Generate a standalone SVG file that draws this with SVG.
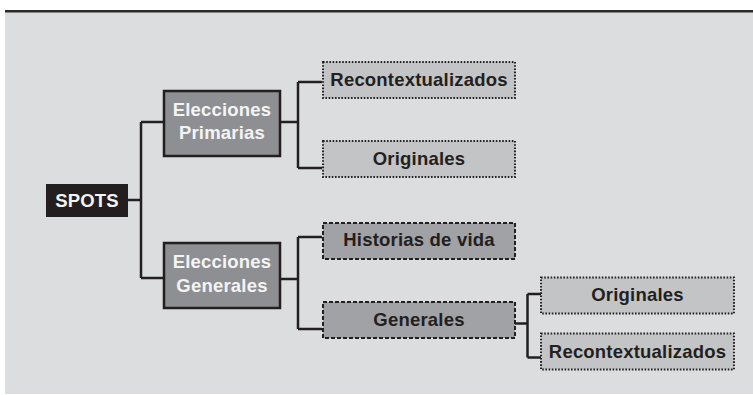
<svg xmlns="http://www.w3.org/2000/svg" width="753" height="395" viewBox="0 0 753 395">
<style>
.bg{fill:#dcdddf}
.root{fill:#231f20}
.main{fill:#8e8f93;stroke:#231f20;stroke-width:2.5}
.dot{fill:#c3c4c6;stroke:#231f20;stroke-width:2;stroke-dasharray:1.6 1.6}
.dash{fill:#a1a2a5;stroke:#231f20;stroke-width:2;stroke-dasharray:4 2}
.c{fill:none;stroke:#231f20;stroke-width:2.5}
text{font-family:"Liberation Sans",Arial,sans-serif;font-weight:bold;font-size:18.5px;text-anchor:middle;letter-spacing:0.2px}
.w{fill:#f4f4f4}
.k{fill:#231f20}
</style>
<rect x="0" y="0" width="753" height="395" fill="#ffffff"/>
<rect class="bg" x="5" y="12" width="748" height="382"/>
<rect x="5" y="10" width="748" height="2.5" fill="#2b2b2b"/>
<g id="connectors">
<path class="c" d="M128 200 H141 M141 122 V278 M141 122 H163 M141 278 H163"/>
<path class="c" d="M280 122 H298 M298 82 V168 M298 82 H322 M298 168 H322"/>
<path class="c" d="M280 279 H298 M298 237 V329 M298 237 H322 M298 329 H322"/>
<path class="c" d="M515 323.5 H527.5 M527.5 294 V357.5 M527.5 294 H541 M527.5 357.5 H541"/>
</g>
<g id="spots">
<rect class="root" x="46" y="184" width="82" height="33"/>
<text class="w" x="87" y="207">SPOTS</text>
</g>
<g id="primarias">
<rect class="main" x="164" y="91" width="116" height="65"/>
<text class="w" x="222" y="116">Elecciones</text>
<text class="w" x="222" y="139">Primarias</text>
</g>
<g id="generales-elecciones">
<rect class="main" x="164" y="243" width="116" height="65"/>
<text class="w" x="222" y="268">Elecciones</text>
<text class="w" x="222" y="292">Generales</text>
</g>
<g id="recontextualizados-1">
<rect class="dot" x="323" y="62" width="192" height="36"/>
<text class="k" x="419" y="86">Recontextualizados</text>
</g>
<g id="originales-1">
<rect class="dot" x="323" y="141" width="192" height="36"/>
<text class="k" x="419" y="165">Originales</text>
</g>
<g id="historias">
<rect class="dash" x="323" y="223" width="192" height="36"/>
<text class="k" x="419" y="246">Historias de vida</text>
</g>
<g id="generales">
<rect class="dash" x="323" y="302" width="192" height="36"/>
<text class="k" x="419" y="326">Generales</text>
</g>
<g id="originales-2">
<rect class="dot" x="541" y="277.5" width="193" height="36"/>
<text class="k" x="637.5" y="301">Originales</text>
</g>
<g id="recontextualizados-2">
<rect class="dot" x="541" y="333.5" width="193" height="36"/>
<text class="k" x="637.5" y="358">Recontextualizados</text>
</g>
</svg>
